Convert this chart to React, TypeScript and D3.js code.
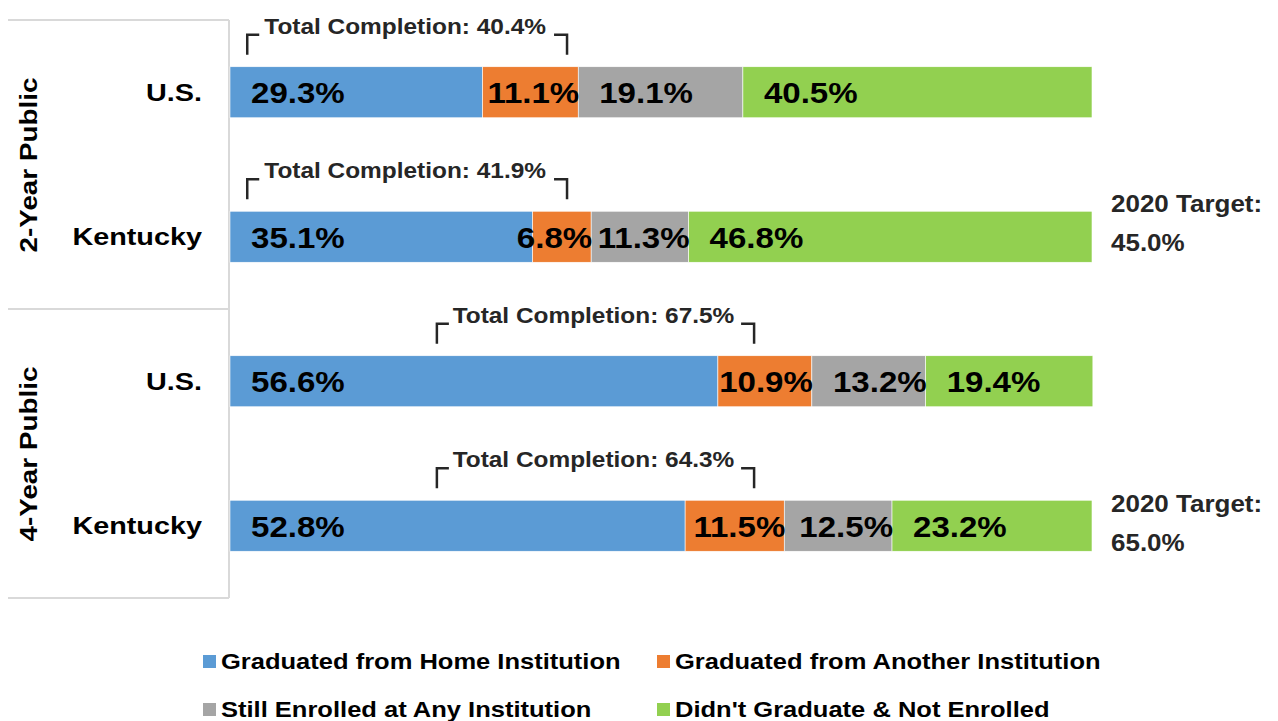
import React from 'react';
import * as d3 from 'd3';

// chart data
const rowKeys = ['us2', 'ky2', 'us4', 'ky4'];
const rowLabels = ['U.S.', 'Kentucky', 'U.S.', 'Kentucky'];
const groupLabels = ['2-Year Public', '4-Year Public'];
const seriesNames = [
  'Graduated from Home Institution',
  'Graduated from Another Institution',
  'Still Enrolled at Any Institution',
  "Didn't Graduate & Not Enrolled",
];
const homeGrad = [29.3, 35.1, 56.6, 52.8];
const otherGrad = [11.1, 6.8, 10.9, 11.5];
const stillEnrolled = [19.1, 11.3, 13.2, 12.5];
const notEnrolled = [40.5, 46.8, 19.4, 23.2];
const totalCompletion = [40.4, 41.9, 67.5, 64.3];
const targets = [null, 45.0, null, 65.0];

// layout
const W = 1278;
const H = 721;
const colors = ['#5B9BD5', '#ED7D31', '#A5A5A5', '#92D050'];
const FONT = "'Liberation Sans', Arial, sans-serif";
const bracketSpan = [[2, 39.1], [2, 39.1], [24, 60.8], [24, 60.8]]; // in % units
const targetDy = [0, -25, 0, -14];

const measure = (() => {
  const c = typeof document !== 'undefined' ? document.createElement('canvas').getContext('2d') : null;
  return (t: string, size: number) => {
    if (!c) return t.length * size * 0.6;
    c.font = `bold ${size}px ${FONT}`;
    return c.measureText(t).width;
  };
})();

const table = rowKeys.map((k, i) => ({
  key: k,
  s0: homeGrad[i],
  s1: otherGrad[i],
  s2: stillEnrolled[i],
  s3: notEnrolled[i],
}));

const Stretch = ({ x, y, sx = 1, size, anchor = 'start', fill = '#000', rotate = 0, children }: any) => (
  <text
    transform={`translate(${x},${y}) rotate(${rotate}) scale(${sx},1)`}
    fontSize={size}
    fontWeight="bold"
    fontFamily={FONT}
    textAnchor={anchor}
    fill={fill}
  >
    {children}
  </text>
);

const App = () => {
  const x = d3.scaleLinear().domain([0, 100]).range([230, 1092]);
  const y = d3.scaleBand().domain(rowKeys).range([20, 598]).paddingInner(0.647).paddingOuter(0.3235);
  const stacked = d3.stack<any>().keys(['s0', 's1', 's2', 's3'])(table);
  const valFont = 29;
  const valSx = 1.14;

  return (
    <svg width={W} height={H} style={{ position: 'absolute', left: 0, top: 0, display: 'block' }}>
      <rect width={W} height={H} fill="#fff" />
      {/* category frame */}
      <g stroke="#d9d9d9" strokeWidth={2} fill="none">
        <line x1={8} x2={229} y1={20} y2={20} />
        <line x1={8} x2={229} y1={309} y2={309} />
        <line x1={8} x2={229} y1={598} y2={598} />
        <line x1={229} x2={229} y1={20} y2={598} />
      </g>
      {groupLabels.map((g, gi) => (
        <Stretch key={g} x={37} y={gi === 0 ? 165 : 454} rotate={-90} sx={1.16} size={24} anchor="middle">
          {g}
        </Stretch>
      ))}
      {rowKeys.map((k, i) => (
        <Stretch key={k} x={202} y={(y(k) as number) + y.bandwidth() / 2 + 8.5} sx={1.2} size={24} anchor="end">
          {rowLabels[i]}
        </Stretch>
      ))}
      {/* bars */}
      {stacked.map((layer, si) => (
        <g key={layer.key}>
          {layer.map((d, i) => (
            <rect
              key={i}
              x={x(d[0])}
              y={y(rowKeys[i])}
              width={x(d[1]) - x(d[0])}
              height={y.bandwidth()}
              fill={colors[si]}
              stroke="#fff"
              strokeWidth={0.6}
            />
          ))}
        </g>
      ))}
      {/* value labels */}
      {stacked.map((layer, si) => (
        <g key={'l' + layer.key}>
          {layer.map((d, i) => {
            const v = d[1] - d[0];
            const label = `${v.toFixed(1)}%`;
            const x0 = x(d[0]);
            const x1 = x(d[1]);
            const lw = measure(label, valFont) * valSx;
            const fits = x1 - x0 >= lw + 21;
            return (
              <Stretch
                key={i}
                x={fits ? x0 + 21 : x1 + 1}
                y={(y(rowKeys[i]) as number) + y.bandwidth() / 2 + 11}
                anchor={fits ? 'start' : 'end'}
                size={valFont}
                sx={valSx}
              >
                {label}
              </Stretch>
            );
          })}
        </g>
      ))}
      {/* total completion brackets */}
      {rowKeys.map((k, i) => {
        const top = y(k) as number;
        const xl = x(bracketSpan[i][0]);
        const xr = x(bracketSpan[i][1]);
        const by = top - 32;
        return (
          <g key={'b' + k}>
            <path
              d={`M${xl},${top - 12}V${by}H${xl + 12}M${xr - 13},${by}H${xr}V${top - 12}`}
              stroke="#262626"
              strokeWidth={2.5}
              fill="none"
            />
            <Stretch x={(xl + xr) / 2 - 2} y={by - 1} sx={1.11} size={22} anchor="middle" fill="#262626">
              {`Total Completion: ${totalCompletion[i].toFixed(1)}%`}
            </Stretch>
          </g>
        );
      })}
      {/* targets */}
      {rowKeys.map((k, i) =>
        targets[i] == null ? null : (
          <g key={'t' + k}>
            <Stretch x={1111} y={(y(k) as number) + y.bandwidth() / 2 + targetDy[i]} sx={1.13} size={23} fill="#262626">
              2020 Target:
            </Stretch>
            <Stretch x={1111} y={(y(k) as number) + y.bandwidth() / 2 + targetDy[i] + 39} sx={1.13} size={23} fill="#262626">
              {`${(targets[i] as number).toFixed(1)}%`}
            </Stretch>
          </g>
        )
      )}
      {/* legend */}
      {seriesNames.map((s, i) => {
        const lx = i % 2 === 0 ? 203 : 657;
        const ly = i < 2 ? 669 : 717;
        return (
          <g key={s}>
            <rect x={lx} y={ly - 14} width={13} height={13} fill={colors[i]} />
            <Stretch x={lx + 18} y={ly} sx={1.16} size={22}>
              {s}
            </Stretch>
          </g>
        );
      })}
    </svg>
  );
};

export default App;
